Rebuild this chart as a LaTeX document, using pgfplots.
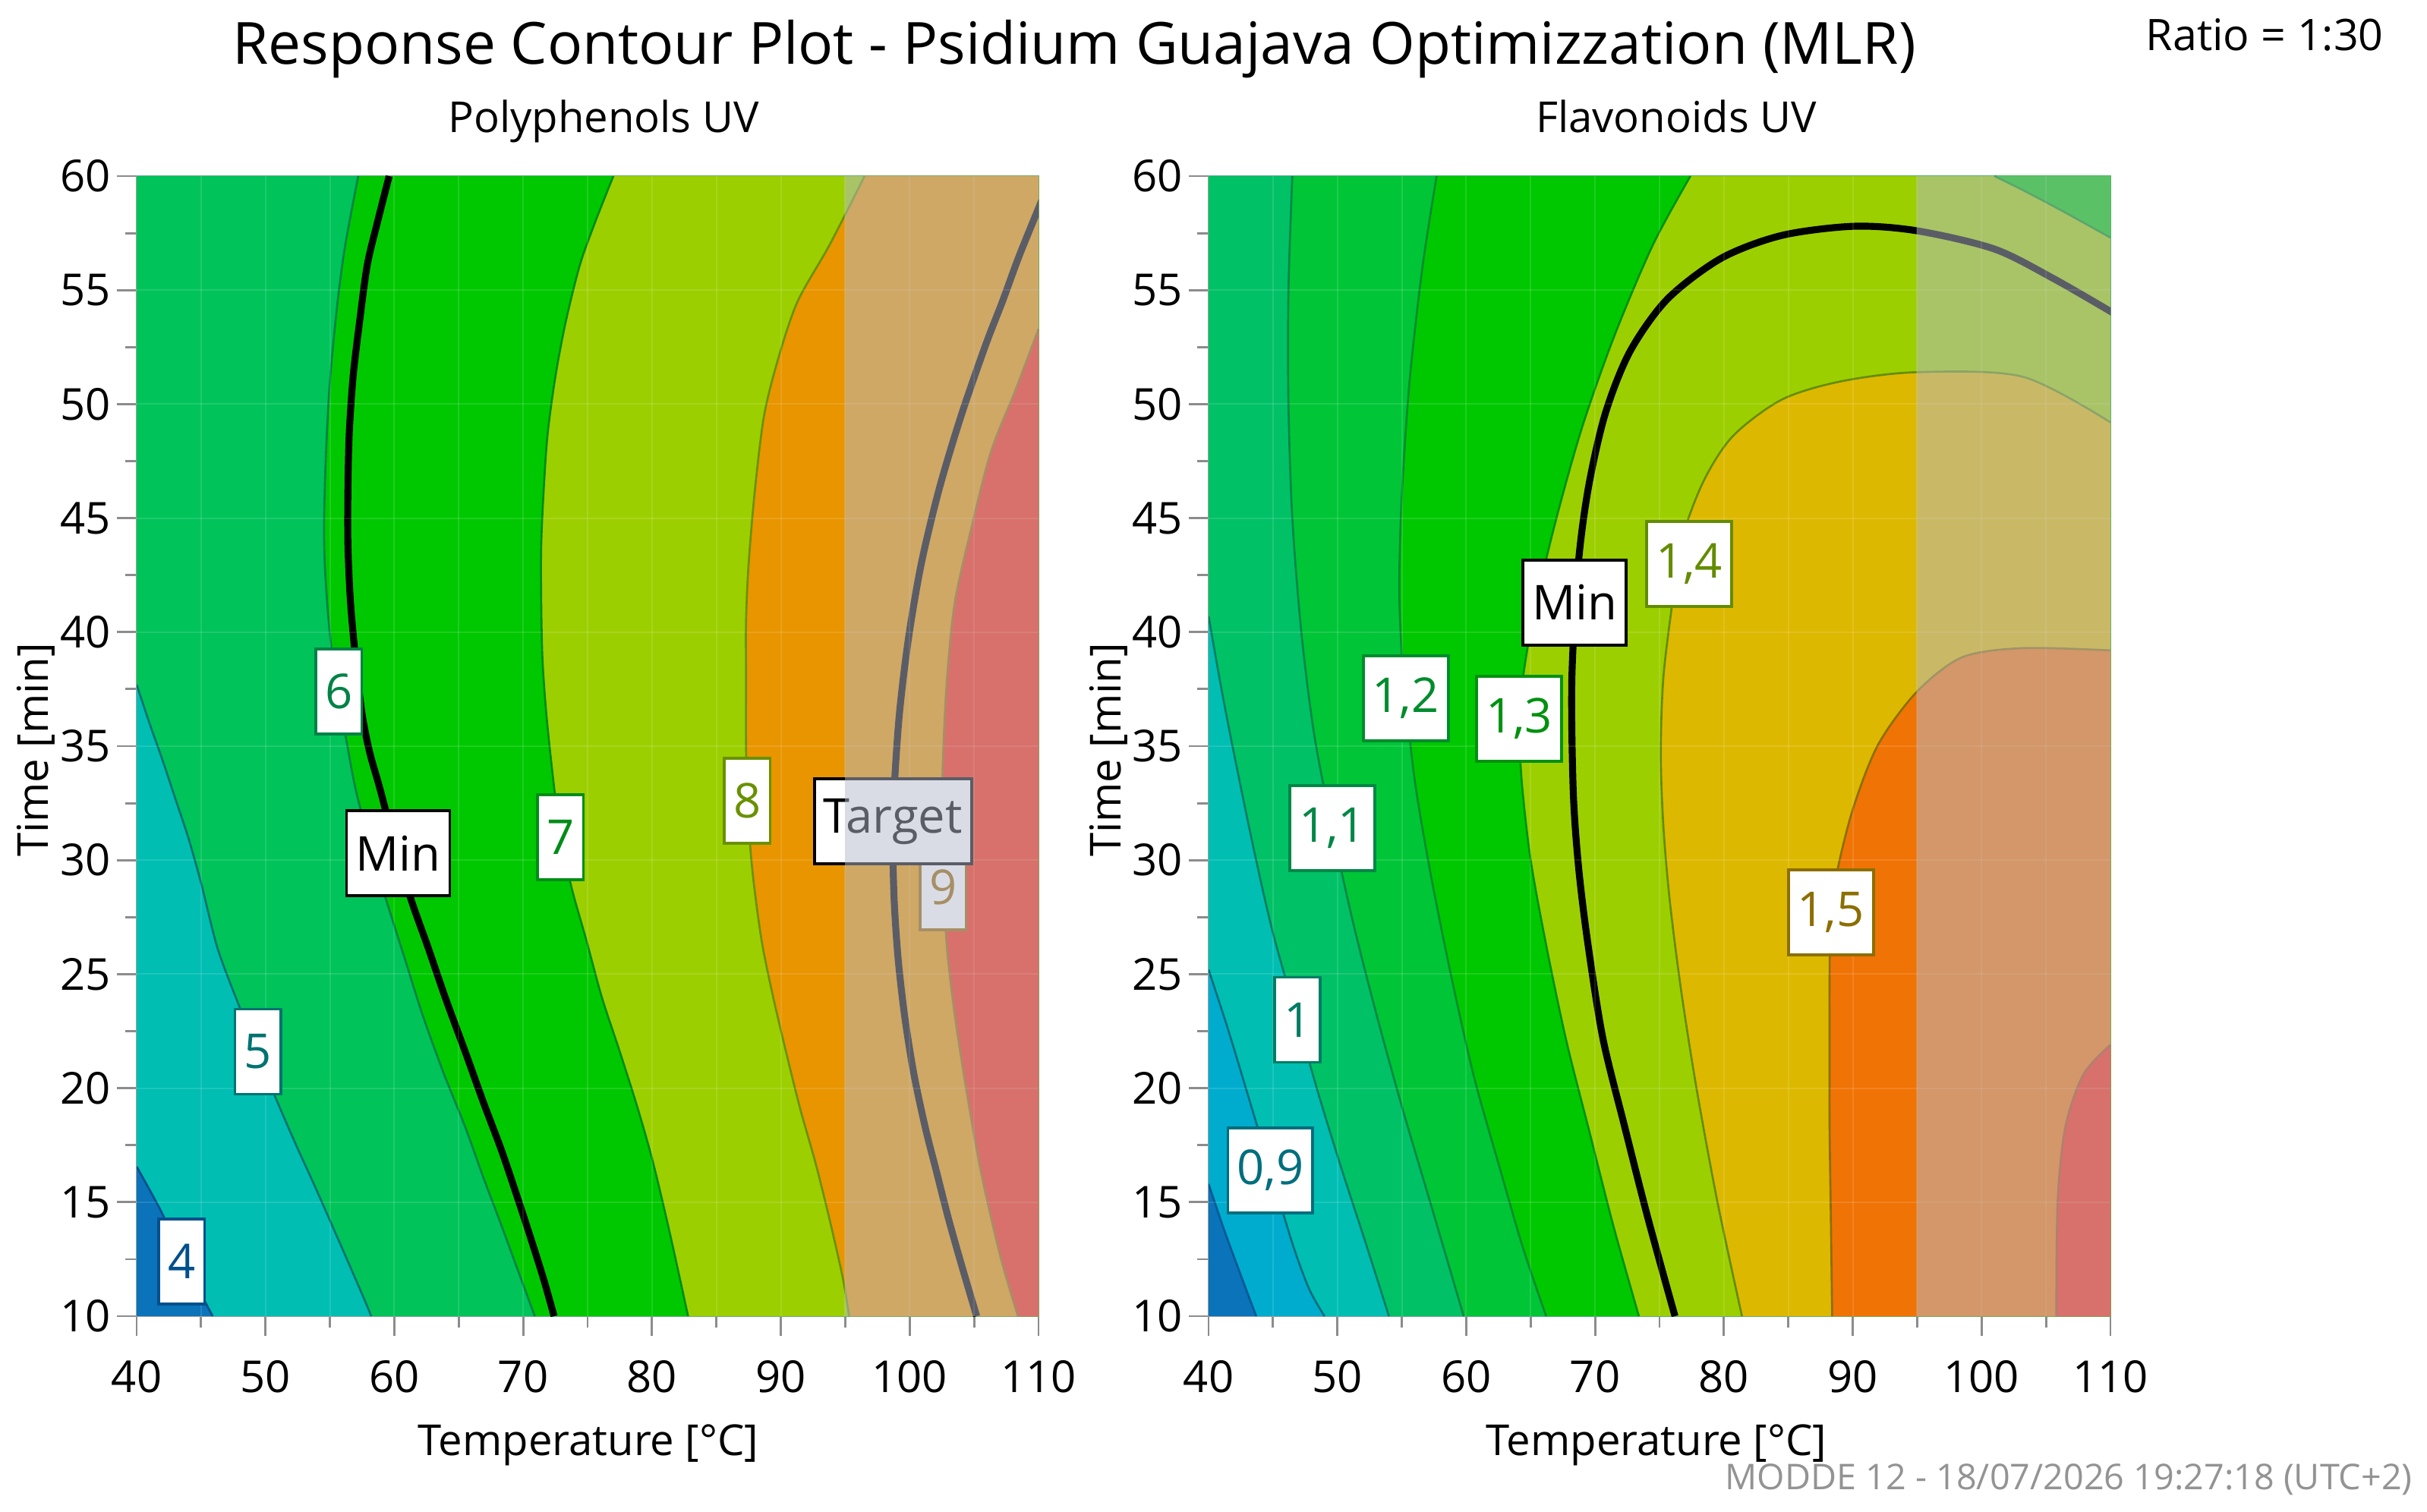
\documentclass[border=0pt]{standalone}
\usepackage{pgfplots}
\pgfplotsset{compat=1.18}
\usepackage{fontspec}
\setmainfont{Open Sans}
% fills
\definecolor{cDB}{RGB}{10,115,185}
\definecolor{cCy}{RGB}{0,172,205}
\definecolor{cTeal}{RGB}{0,190,178}
\definecolor{cTG}{RGB}{0,193,102}
\definecolor{cMG}{RGB}{0,195,90}
\definecolor{cMG2}{RGB}{0,197,55}
\definecolor{cBG}{RGB}{0,200,0}
\definecolor{cYG}{RGB}{156,207,0}
\definecolor{cOr}{RGB}{232,149,0}
\definecolor{cAm}{RGB}{221,184,0}
\definecolor{cOr2}{RGB}{240,115,5}
\definecolor{cRed}{RGB}{250,40,10}
\definecolor{cOver}{RGB}{183,187,205}
% lines / label text
\definecolor{L4}{RGB}{0,80,140}
\definecolor{L5}{RGB}{0,115,112}
\definecolor{L6}{RGB}{0,130,70}
\definecolor{L7}{RGB}{0,140,25}
\definecolor{L8}{RGB}{105,145,0}
\definecolor{L9}{RGB}{150,100,0}
\definecolor{R08}{RGB}{0,90,150}
\definecolor{R09}{RGB}{0,110,125}
\definecolor{R10}{RGB}{0,125,100}
\definecolor{R11}{RGB}{0,135,70}
\definecolor{R12}{RGB}{0,140,45}
\definecolor{R13}{RGB}{0,145,15}
\definecolor{R14}{RGB}{100,140,0}
\definecolor{R15}{RGB}{140,110,0}
\definecolor{R16}{RGB}{170,70,20}
\tikzset{lab/.style={draw=#1, text=#1, fill=white, line width=1.1pt,
  font=\fontsize{18}{18}\selectfont, minimum height=1.12cm,
  inner xsep=0.12cm, inner ysep=0pt},
  cl/.style={#1, line width=0.75pt, smooth}}
\pgfplotsset{cstyle/.style={
  scale only axis, width=11.88cm, height=15.02cm,
  xmin=40, xmax=110, ymin=10, ymax=60,
  xtick={40,50,...,110}, ytick={10,15,...,60},
  minor xtick={45,55,...,105}, minor ytick={12.5,17.5,...,57.5},
  tick align=outside, tick pos=left,
  major tick length=0.26cm, minor tick length=0.15cm,
  every tick/.style={gray!90, line width=0.8pt},
  axis line style={gray!75, line width=0.8pt},
  ticklabel style={font=\fontsize{16.5}{16.5}\selectfont},
  /pgf/number format/assume math mode=true,
  xticklabel style={yshift=-0.2cm},
  yticklabel style={xshift=0.04cm},
}}
\begin{document}
\begin{tikzpicture}
\useasboundingbox (0,0) rectangle (31.97,-19.92);
% ---------------- Left: Polyphenols ----------------
\begin{axis}[cstyle, at={(1.80cm,-17.34cm)}, anchor=south west]
\addplot[fill=cDB, draw=none] coordinates {(40,10) (110,10) (110,60) (40,60)};
\addplot[fill=cTeal, draw=none] coordinates {(40,60) (40,16.56) (41.9,14.6) (43.8,12.3) (45.9,10) (110,10) (110,60)};
\addplot[fill=cMG, draw=none, smooth] coordinates {(40,37.7) (41,36.0) (42,34.4) (43,32.7) (44,31.0) (45,29.0) (46.3,26.1) (48.06,23.45) (49.4,21.5) (50.8,19.56) (52.3,17.6) (53.75,15.8) (55.7,13.3) (57.7,10.7) (58.2,10)} -- (axis cs:110,10) -- (axis cs:110,60) -- (axis cs:40,60) -- cycle;
\addplot[fill=cBG, draw=none, smooth] coordinates {(57.2,60) (56.2,57) (55.6,54.5) (55.0,51) (54.7,47.9) (54.55,45) (54.6,43) (54.9,40.5) (55.4,38) (56.2,35.5) (57.0,33.1) (58.2,30.5) (59.4,28.2) (60.8,25.7) (62.2,23.2) (63.8,20.7) (65.5,18.3) (66.9,16.1) (68.3,14.0) (69.6,12.0) (70.9,10)} -- (axis cs:110,10) -- (axis cs:110,60) -- cycle;
\addplot[fill=cYG, draw=none, smooth] coordinates {(77.0,60) (75.6,58) (74.4,56.1) (73.3,53.6) (72.5,51.2) (71.9,48.7) (71.6,46.3) (71.4,43.8) (71.4,41.3) (71.5,38.8) (71.8,36.4) (72.3,33.7) (72.9,31.0) (73.8,28.7) (74.9,26.5) (76.1,24.0) (77.5,21.6) (78.9,19.1) (80.1,16.7) (81.4,13.6) (82.8,10)} -- (axis cs:110,10) -- (axis cs:110,60) -- cycle;
\addplot[fill=cOr, draw=none, smooth] coordinates {(96.5,60) (93.8,57) (91.3,54.5) (89.8,52) (88.7,49.5) (88.0,46.3) (87.5,43.0) (87.3,40.5) (87.3,38.0) (87.3,35) (87.4,32.4) (87.8,29.5) (88.5,26.5) (89.4,24) (90.4,21.6) (91.5,19.1) (92.7,16.7) (93.8,14.2) (94.8,11.7) (95.3,10)} -- (axis cs:110,10) -- (axis cs:110,60) -- cycle;
\addplot[fill=cRed, draw=none, smooth] coordinates {(110,53.3) (108.2,50.6) (106.3,47.9) (104.8,44.6) (103.5,41.3) (102.9,38) (102.6,34.7) (102.5,31.9) (102.6,29.1) (102.9,26.1) (103.5,23.2) (104.4,19.9) (105.4,16.7) (106.2,14.6) (107.0,12.7) (107.7,11.3) (108.4,10)} -- (axis cs:110,10) -- cycle;
% contour lines
\addplot[cl=L4] coordinates {(40,16.56) (41.9,14.6) (43.8,12.3) (45.9,10)};
\addplot[cl=L5] coordinates {(40,37.7) (41,36.0) (42,34.4) (43,32.7) (44,31.0) (45,29.0) (46.3,26.1) (48.06,23.45) (49.4,21.5) (50.8,19.56) (52.3,17.6) (53.75,15.8) (55.7,13.3) (57.7,10.7) (58.2,10)};
\addplot[cl=L6] coordinates {(57.2,60) (56.2,57) (55.6,54.5) (55.0,51) (54.7,47.9) (54.55,45) (54.6,43) (54.9,40.5) (55.4,38) (56.2,35.5) (57.0,33.1) (58.2,30.5) (59.4,28.2) (60.8,25.7) (62.2,23.2) (63.8,20.7) (65.5,18.3) (66.9,16.1) (68.3,14.0) (69.6,12.0) (70.9,10)};
\addplot[cl=L7] coordinates {(77.0,60) (75.6,58) (74.4,56.1) (73.3,53.6) (72.5,51.2) (71.9,48.7) (71.6,46.3) (71.4,43.8) (71.4,41.3) (71.5,38.8) (71.8,36.4) (72.3,33.7) (72.9,31.0) (73.8,28.7) (74.9,26.5) (76.1,24.0) (77.5,21.6) (78.9,19.1) (80.1,16.7) (81.4,13.6) (82.8,10)};
\addplot[cl=L8] coordinates {(96.5,60) (93.8,57) (91.3,54.5) (89.8,52) (88.7,49.5) (88.0,46.3) (87.5,43.0) (87.3,40.5) (87.3,38.0) (87.3,35) (87.4,32.4) (87.8,29.5) (88.5,26.5) (89.4,24) (90.4,21.6) (91.5,19.1) (92.7,16.7) (93.8,14.2) (94.8,11.7) (95.3,10)};
\addplot[cl=L9] coordinates {(110,53.3) (108.2,50.6) (106.3,47.9) (104.8,44.6) (103.5,41.3) (102.9,38) (102.6,34.7) (102.5,31.9) (102.6,29.1) (102.9,26.1) (103.5,23.2) (104.4,19.9) (105.4,16.7) (106.2,14.6) (107.0,12.7) (107.7,11.3) (108.4,10)};
% Min and Target
\addplot[black, line width=2.6pt, smooth] coordinates {(59.6,60) (58.7,58) (57.9,56.1) (57.3,53.6) (56.8,51.2) (56.5,48.7) (56.4,46.3) (56.4,43.8) (56.6,41.3) (57.0,38.8) (57.5,36.4) (58.1,34.7) (58.9,33.1) (60.3,30.1) (61.4,28.1) (62.6,26.2) (64.0,23.9) (65.5,21.6) (66.9,19.4) (68.3,17.3) (69.5,15.3) (70.6,13.4) (71.6,11.6) (72.4,10)};
\addplot[black, line width=2.6pt, smooth] coordinates {(110.3,59.0) (108.5,56.5) (107.2,54.5) (105.9,52.6) (104.0,49.5) (102.3,46.3) (100.9,43.0) (99.9,39.7) (99.2,36.4) (98.8,33.1) (98.7,30.6) (98.8,28.2) (99.1,25.7) (99.6,23.2) (100.3,20.7) (101.2,18.3) (102.1,16.3) (103.0,14.3) (104.1,12.1) (105.2,10)};
\pgfplotsinvokeforeach{45,50,...,105}{\draw[white, opacity=0.12, line width=0.6pt] (axis cs:#1,10) -- (axis cs:#1,60);}
\pgfplotsinvokeforeach{15,20,...,55}{\draw[white, opacity=0.12, line width=0.6pt] (axis cs:40,#1) -- (axis cs:110,#1);}
% labels
\node[lab=L4] at (axis cs:43.5,12.4) {4};
\node[lab=L5] at (axis cs:49.4,21.6) {5};
\node[lab=L6] at (axis cs:55.7,37.4) {6};
\node[lab=L7] at (axis cs:72.9,31.0) {7};
\node[lab=L8] at (axis cs:87.4,32.6) {8};
\node[lab=L9] at (axis cs:102.6,28.8) {9};
\node[lab=black] at (axis cs:60.3,30.3) {Min};
\node[lab=black] at (axis cs:98.7,31.7) {Target};
% shaded region
\addplot[fill=cOver, fill opacity=0.5, draw=none] coordinates {(95,10) (110,10) (110,60) (95,60)};
\end{axis}
% ---------------- Right: Flavonoids ----------------
\begin{axis}[cstyle, at={(15.92cm,-17.34cm)}, anchor=south west]
\addplot[fill=cDB, draw=none] coordinates {(40,10) (110,10) (110,60) (40,60)};
\addplot[fill=cCy, draw=none, smooth] coordinates {(40,15.8) (41.2,13.8) (42.5,11.8) (43.7,10)} -- (axis cs:110,10) -- (axis cs:110,60) -- (axis cs:40,60) -- cycle;
\addplot[fill=cTeal, draw=none, smooth] coordinates {(40,25.2) (41.5,22.6) (43.0,19.8) (44.8,16.4) (46.5,13.2) (47.8,11.2) (49.0,10)} -- (axis cs:110,10) -- (axis cs:110,60) -- (axis cs:40,60) -- cycle;
\addplot[fill=cTG, draw=none, smooth] coordinates {(40,40.7) (41,37.5) (42,34.6) (43.5,30.5) (45,26.8) (46.9,23.0) (48.5,19.8) (50.3,16.5) (52.2,13.2) (54.0,10)} -- (axis cs:110,10) -- (axis cs:110,60) -- (axis cs:40,60) -- cycle;
\addplot[fill=cMG2, draw=none, smooth] coordinates {(46.5,60) (46.2,55) (46.2,50) (46.5,45) (47.2,40) (48.2,35.5) (49.6,31.4) (51.2,27.3) (53.0,23.3) (55.0,19.2) (57.2,15) (59.8,10)} -- (axis cs:110,10) -- (axis cs:110,60) -- cycle;
\addplot[fill=cBG, draw=none, smooth] coordinates {(57.7,60) (56.6,56) (55.6,51) (55.0,46) (54.8,42) (55.0,39) (55.3,37.1) (56.0,33.5) (57.2,29.5) (58.8,25) (60.6,20.5) (62.6,16.5) (64.4,13) (66.2,10)} -- (axis cs:110,10) -- (axis cs:110,60) -- cycle;
\addplot[fill=cYG, draw=none, smooth] coordinates {(77.4,60) (74.5,57) (71.5,53) (69.0,49) (67.0,45) (65.3,41) (64.4,38) (64.1,36.2) (64.3,33.5) (65.0,30) (66.3,26) (67.8,22) (69.6,18) (71.4,14) (73.4,10)} -- (axis cs:110,10) -- (axis cs:110,60) -- cycle;
\addplot[fill=cBG, draw=none, smooth] coordinates {(101,60) (103.5,59.3) (106.5,58.4) (110,57.3)} -- (axis cs:110,60) -- cycle;
\addplot[fill=cAm, draw=none, smooth] coordinates {(110,49.2) (103.2,51.2) (95,51.4) (89.1,51.0) (84.5,50.2) (80.7,48.6) (78.4,46.6) (76.7,44.0) (76.0,41.3) (75.3,38.0) (75.1,34.7) (75.3,31.5) (75.8,28.2) (76.7,24.2) (77.9,19.9) (79.5,15.0) (81.4,10)} -- (axis cs:110,10) -- cycle;
\addplot[fill=cOr2, draw=none, smooth] coordinates {(110,39.2) (103.2,39.3) (98.5,38.9) (95.0,37.4) (92.0,35.1) (90.1,32.4) (88.9,29.8) (88.3,27.7) (88.2,24.9) (88.2,21.6) (88.2,18.3) (88.3,14.3) (88.4,10)} -- (axis cs:110,10) -- cycle;
\addplot[fill=cRed, draw=none, smooth] coordinates {(110,21.9) (107.9,20.6) (106.5,18.3) (105.9,15.0) (105.8,10)} -- (axis cs:110,10) -- cycle;
% contour lines
\addplot[cl=R08] coordinates {(40,15.8) (41.2,13.8) (42.5,11.8) (43.7,10)};
\addplot[cl=R09] coordinates {(40,25.2) (41.5,22.6) (43.0,19.8) (44.8,16.4) (46.5,13.2) (47.8,11.2) (49.0,10)};
\addplot[cl=R10] coordinates {(40,40.7) (41,37.5) (42,34.6) (43.5,30.5) (45,26.8) (46.9,23.0) (48.5,19.8) (50.3,16.5) (52.2,13.2) (54.0,10)};
\addplot[cl=R11] coordinates {(46.5,60) (46.2,55) (46.2,50) (46.5,45) (47.2,40) (48.2,35.5) (49.6,31.4) (51.2,27.3) (53.0,23.3) (55.0,19.2) (57.2,15) (59.8,10)};
\addplot[cl=R12] coordinates {(57.7,60) (56.6,56) (55.6,51) (55.0,46) (54.8,42) (55.0,39) (55.3,37.1) (56.0,33.5) (57.2,29.5) (58.8,25) (60.6,20.5) (62.6,16.5) (64.4,13) (66.2,10)};
\addplot[cl=R13] coordinates {(77.4,60) (74.5,57) (71.5,53) (69.0,49) (67.0,45) (65.3,41) (64.4,38) (64.1,36.2) (64.3,33.5) (65.0,30) (66.3,26) (67.8,22) (69.6,18) (71.4,14) (73.4,10)};
\addplot[cl=R13] coordinates {(101,60) (103.5,59.3) (106.5,58.4) (110,57.3)};
\addplot[cl=R14] coordinates {(110,49.2) (103.2,51.2) (95,51.4) (89.1,51.0) (84.5,50.2) (80.7,48.6) (78.4,46.6) (76.7,44.0) (76.0,41.3) (75.3,38.0) (75.1,34.7) (75.3,31.5) (75.8,28.2) (76.7,24.2) (77.9,19.9) (79.5,15.0) (81.4,10)};
\addplot[cl=R15] coordinates {(110,39.2) (103.2,39.3) (98.5,38.9) (95.0,37.4) (92.0,35.1) (90.1,32.4) (88.9,29.8) (88.3,27.7) (88.2,24.9) (88.2,21.6) (88.2,18.3) (88.3,14.3) (88.4,10)};
\addplot[cl=R16] coordinates {(110,21.9) (107.9,20.6) (106.5,18.3) (105.9,15.0) (105.8,10)};
\addplot[black, line width=2.6pt, smooth] coordinates {(110.2,54.0) (105.6,55.5) (101.0,56.8) (95.0,57.6) (90.1,57.8) (84.5,57.4) (79.8,56.4) (75.6,54.6) (72.7,52.3) (70.8,49.6) (69.5,46.4) (68.7,43.0) (68.2,38.0) (68.3,33.1) (68.7,29.8) (69.4,26.5) (70.6,22.2) (72.3,18.3) (74.1,14.3) (76.2,10)};
\pgfplotsinvokeforeach{45,50,...,105}{\draw[white, opacity=0.12, line width=0.6pt] (axis cs:#1,10) -- (axis cs:#1,60);}
\pgfplotsinvokeforeach{15,20,...,55}{\draw[white, opacity=0.12, line width=0.6pt] (axis cs:40,#1) -- (axis cs:110,#1);}
% labels
\node[lab=R09] at (axis cs:44.8,16.4) {0,9};
\node[lab=R10] at (axis cs:46.9,23.0) {1};
\node[lab=R11] at (axis cs:49.6,31.4) {1,1};
\node[lab=R12] at (axis cs:55.3,37.1) {1,2};
\node[lab=R13] at (axis cs:64.1,36.2) {1,3};
\node[lab=R14] at (axis cs:77.3,43.0) {1,4};
\node[lab=R15] at (axis cs:88.3,27.7) {1,5};
\node[lab=black] at (axis cs:68.4,41.3) {Min};
\addplot[fill=cOver, fill opacity=0.5, draw=none] coordinates {(95,10) (110,10) (110,60) (95,60)};
\end{axis}
% ---------------- texts ----------------
\node[anchor=base, font=\fontsize{21.8}{21.8}\selectfont] at (14.15,-0.85) {Response Contour Plot - Psidium Guajava Optimizzation (MLR)};
\node[anchor=base east, font=\fontsize{16.3}{16.3}\selectfont] at (31.52,-0.67) {Ratio = 1:30};
\node[anchor=base, font=\fontsize{16}{16}\selectfont] at (7.95,-1.75) {Polyphenols UV};
\node[anchor=base, font=\fontsize{16}{16}\selectfont] at (22.08,-1.75) {Flavonoids UV};
\node[anchor=base, font=\fontsize{16}{16}\selectfont] at (7.75,-19.17) {Temperature [°C]};
\node[anchor=base, font=\fontsize{16}{16}\selectfont] at (21.82,-19.17) {Temperature [°C]};
\node[rotate=90, anchor=base, font=\fontsize{16}{16}\selectfont] at (0.63,-9.88) {Time [min]};
\node[rotate=90, anchor=base, font=\fontsize{16}{16}\selectfont] at (14.76,-9.88) {Time [min]};
\node[anchor=base east, text=gray!85, font=\fontsize{13.3}{13.3}\selectfont] at (31.90,-19.62) {MODDE 12 - 18/07/2026 19:27:18 (UTC+2)};
\end{tikzpicture}
\end{document}
